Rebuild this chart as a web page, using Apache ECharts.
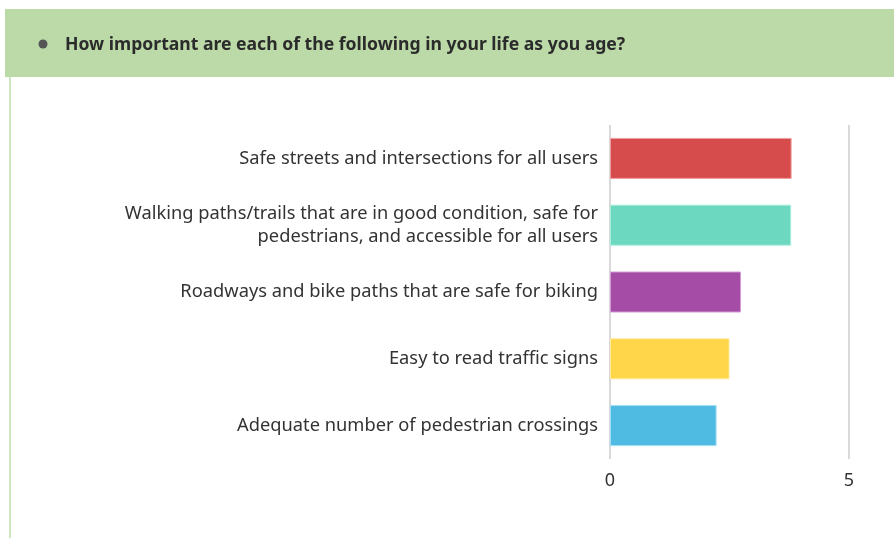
<!DOCTYPE html>
<html>
<head>
<meta charset="utf-8">
<script src="https://cdn.jsdelivr.net/npm/echarts@6/dist/echarts.min.js"></script>
<style>
html,body{margin:0;padding:0;background:#fff;}
#c{width:894px;height:538px;}
</style>
</head>
<body>
<div id="c"></div>
<script>
const title = 'How important are each of the following in your life as you age?';
const categories = [
  'Safe streets and intersections for all users',
  'Walking paths/trails that are in good condition, safe for\npedestrians, and accessible for all users',
  'Roadways and bike paths that are safe for biking',
  'Easy to read traffic signs',
  'Adequate number of pedestrian crossings'
];
const values = [3.80, 3.79, 2.74, 2.50, 2.23];
const colors = ['#d64c4c', '#6cd8c0', '#a44ca6', '#ffd54a', '#4fbbe3'];
const borderColors = ['#f0a0a0', '#a8eedd', '#d49ad6', '#ffe99a', '#a0dcf3'];
const xTicks = [0, 5];

const FONT = '"Noto Sans", "Open Sans", sans-serif';
const chart = echarts.init(document.getElementById('c'));
chart.setOption({
  animation: false,
  backgroundColor: '#fff',
  textStyle: {fontFamily: FONT},
  graphic: [
    {type: 'rect', shape: {x: 5, y: 9, width: 889, height: 68}, style: {fill: '#bbdaa8'}},
    {type: 'rect', shape: {x: 9, y: 77, width: 2, height: 461}, style: {fill: '#cfe5c2'}},
    {type: 'circle', shape: {cx: 43, cy: 44, r: 4.5}, style: {fill: '#555'}},
    {type: 'text', x: 65, y: 45, style: {text: title, fill: '#2b2b2b', font: 'bold 17.6px ' + FONT, verticalAlign: 'middle'}}
  ],
  grid: {left: 610, right: 45, top: 125, bottom: 79, containLabel: false},
  xAxis: {
    type: 'value', min: 0, max: 5, interval: 5,
    axisLine: {show: false}, axisTick: {show: false},
    splitLine: {show: true, lineStyle: {color: '#d9d9d9', width: 2}},
    axisLabel: {color: '#333', fontSize: 18, margin: 13,
      formatter: v => xTicks.includes(v) ? String(v) : ''}
  },
  yAxis: {
    type: 'category', data: categories, inverse: true,
    axisLine: {show: false}, axisTick: {show: false},
    axisLabel: {color: '#333', fontSize: 18.3, margin: 12, lineHeight: 23, align: 'right', padding: [3, 0, 0, 0]}
  },
  series: [{
    type: 'bar',
    data: values.map((v, i) => ({value: v, itemStyle: {color: colors[i], borderColor: borderColors[i], borderWidth: 1}})),
    barWidth: 41
  }]
});
</script>
</body>
</html>
